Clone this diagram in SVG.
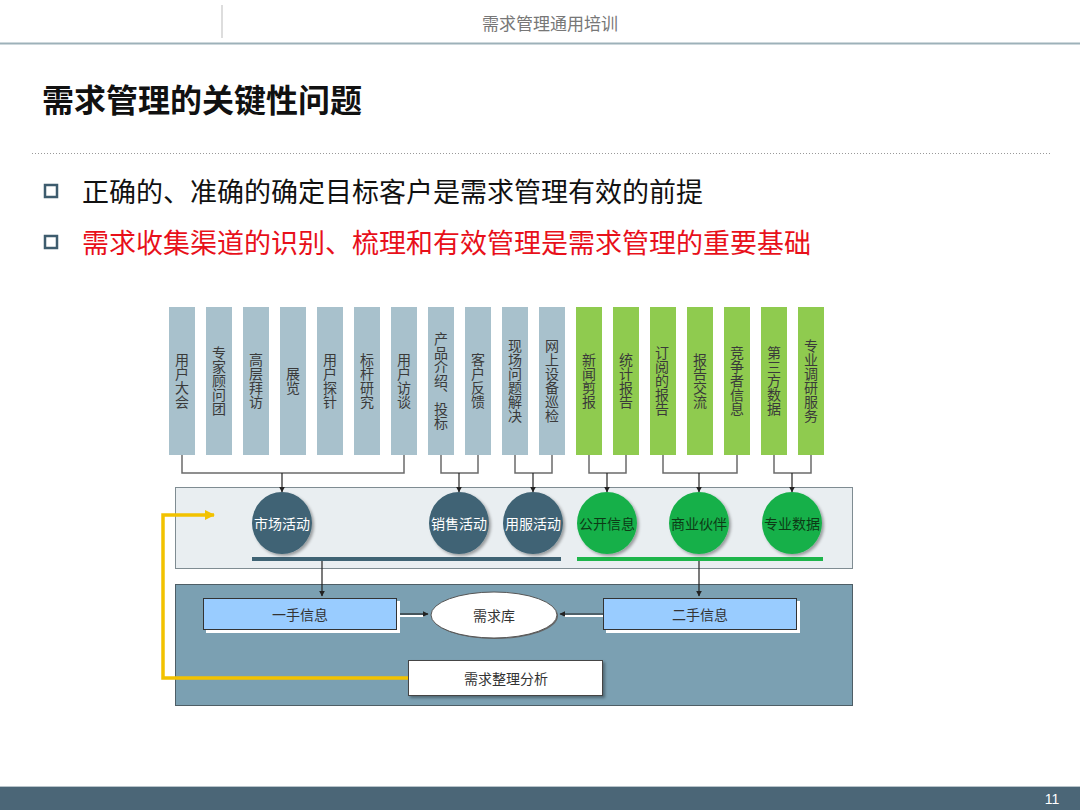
<svg xmlns="http://www.w3.org/2000/svg" width="1080" height="810" viewBox="0 0 1080 810">
<style>
.cjk{font-family:"Noto Sans CJK SC","Liberation Sans",sans-serif}
.col-b{fill:#A8C1CC}
.col-g{fill:#8FCB4F}
.vt{font-family:"Noto Sans CJK SC",sans-serif;font-size:14px;fill:#3a3a3a;writing-mode:vertical-rl;text-anchor:middle}
.br{fill:none;stroke:#6b6b6b;stroke-width:1.5}
.ar{fill:none;stroke:#222;stroke-width:1.2}
.cd{fill:#3F6374}
.cg{fill:#16B04A}
.ct{font-family:"Noto Sans CJK SC",sans-serif;font-size:14px;text-anchor:middle;dominant-baseline:central}
.bt{font-family:"Noto Sans CJK SC",sans-serif;font-size:14px;fill:#333;text-anchor:middle;dominant-baseline:central}
</style>
<defs>
<marker id="ah" viewBox="0 0 10 10" refX="9" refY="5" markerWidth="6" markerHeight="6" orient="auto" markerUnits="userSpaceOnUse">
<path d="M0,0 L10,5 L0,10 z" fill="#222"/>
</marker>
<marker id="ahy" viewBox="0 0 10 10" refX="9" refY="5" markerWidth="10" markerHeight="10" orient="auto" markerUnits="userSpaceOnUse">
<path d="M0,0 L10,5 L0,10 z" fill="#F2C200"/>
</marker>
<filter id="sh" x="-20%" y="-20%" width="140%" height="140%">
<feDropShadow dx="2" dy="2" stdDeviation="1.5" flood-color="#000" flood-opacity="0.35"/>
</filter>
</defs>

<rect width="1080" height="810" fill="#fff"/>

<g id="header">
<line x1="222" y1="5" x2="222" y2="38" stroke="#bbb" stroke-width="1"/>
<text x="550" y="22" class="cjk" font-size="17" fill="#777" text-anchor="middle" dominant-baseline="central">需求管理通用培训</text>
<line x1="0" y1="43.5" x2="1080" y2="43.5" stroke="#9DB1B9" stroke-width="2"/>
</g>

<g id="title">
<text x="42" y="98" class="cjk" font-size="32" font-weight="bold" fill="#111" dominant-baseline="central">需求管理的关键性问题</text>
<line x1="32" y1="153.5" x2="1050" y2="153.5" stroke="#999" stroke-width="1" stroke-dasharray="1 2"/>
</g>

<g id="bullets">
<rect x="45" y="185" width="12" height="12" fill="#fff" stroke="#3E5C6E" stroke-width="2.5"/>
<text x="82" y="190" class="cjk" font-size="27" fill="#111" dominant-baseline="central">正确的、准确的确定目标客户是需求管理有效的前提</text>
<rect x="45" y="236" width="12" height="12" fill="#fff" stroke="#3E5C6E" stroke-width="2.5"/>
<text x="82" y="241" class="cjk" font-size="27" fill="#E8101A" dominant-baseline="central">需求收集渠道的识别、梳理和有效管理是需求管理的重要基础</text>
</g>

<g id="bands">
<rect id="band-mid" x="175.5" y="487.5" width="677" height="81" fill="#E9EEF1" stroke="#7F8C92" stroke-width="1"/>
<rect id="band-bottom" x="175.5" y="584.5" width="677" height="121" fill="#7BA0B2" stroke="#4E5E66" stroke-width="1"/>
</g>

<g id="columns">
<g id="c0"><rect class="col-b" x="169" y="307" width="26" height="148"/><text class="vt" x="182" y="381">用户大会</text></g>
<g id="c1"><rect class="col-b" x="206" y="307" width="26" height="148"/><text class="vt" x="219" y="381">专家顾问团</text></g>
<g id="c2"><rect class="col-b" x="243" y="307" width="26" height="148"/><text class="vt" x="256" y="381">高层拜访</text></g>
<g id="c3"><rect class="col-b" x="280" y="307" width="26" height="148"/><text class="vt" x="293" y="381">展览</text></g>
<g id="c4"><rect class="col-b" x="317" y="307" width="26" height="148"/><text class="vt" x="330" y="381">用户探针</text></g>
<g id="c5"><rect class="col-b" x="354" y="307" width="26" height="148"/><text class="vt" x="367" y="381">标杆研究</text></g>
<g id="c6"><rect class="col-b" x="391" y="307" width="26" height="148"/><text class="vt" x="404" y="381">用户访谈</text></g>
<g id="c7"><rect class="col-b" x="428" y="307" width="26" height="148"/><text class="vt" x="441" y="381">产品介绍、投标</text></g>
<g id="c8"><rect class="col-b" x="465" y="307" width="26" height="148"/><text class="vt" x="478" y="381">客户反馈</text></g>
<g id="c9"><rect class="col-b" x="502" y="307" width="26" height="148"/><text class="vt" x="515" y="381">现场问题解决</text></g>
<g id="c10"><rect class="col-b" x="539" y="307" width="26" height="148"/><text class="vt" x="552" y="381">网上设备巡检</text></g>
<g id="c11"><rect class="col-g" x="576" y="307" width="26" height="148"/><text class="vt" x="589" y="381">新闻剪报</text></g>
<g id="c12"><rect class="col-g" x="613" y="307" width="26" height="148"/><text class="vt" x="626" y="381">统计报告</text></g>
<g id="c13"><rect class="col-g" x="650" y="307" width="26" height="148"/><text class="vt" x="662" y="381">订阅的报告</text></g>
<g id="c14"><rect class="col-g" x="687" y="307" width="26" height="148"/><text class="vt" x="700" y="381">报告交流</text></g>
<g id="c15"><rect class="col-g" x="724" y="307" width="26" height="148"/><text class="vt" x="737" y="381">竞争者信息</text></g>
<g id="c16"><rect class="col-g" x="761" y="307" width="26" height="148"/><text class="vt" x="774" y="381">第三方数据</text></g>
<g id="c17"><rect class="col-g" x="798" y="307" width="26" height="148"/><text class="vt" x="811" y="381">专业调研服务</text></g>
</g>

<g id="connectors">
<path class="br" d="M182 455 V473 H404 V455"/>
<path class="br" d="M441 455 V473 H478 V455"/>
<path class="br" d="M515 455 V473 H552 V455"/>
<path class="br" d="M589 455 V473 H626 V455"/>
<path class="br" d="M663 455 V473 H737 V455"/>
<path class="br" d="M774 455 V473 H811 V455"/>
<line class="ar" x1="282" y1="473" x2="282" y2="492" marker-end="url(#ah)"/>
<line class="ar" x1="459" y1="473" x2="459" y2="492" marker-end="url(#ah)"/>
<line class="ar" x1="533" y1="473" x2="533" y2="492" marker-end="url(#ah)"/>
<line class="ar" x1="607" y1="473" x2="607" y2="492" marker-end="url(#ah)"/>
<line class="ar" x1="699" y1="473" x2="699" y2="492" marker-end="url(#ah)"/>
<line class="ar" x1="792" y1="473" x2="792" y2="492" marker-end="url(#ah)"/>
<rect x="252" y="557" width="309" height="4" fill="#3F6374"/>
<rect x="577" y="557" width="246" height="4" fill="#1DB54B"/>
<line class="ar" x1="322" y1="561" x2="322" y2="596" marker-end="url(#ah)"/>
<line class="ar" x1="699" y1="561" x2="699" y2="596" marker-end="url(#ah)"/>
<line x1="397" y1="616" x2="424" y2="616" stroke="#fff" stroke-width="2"/>
<line class="ar" x1="397" y1="614" x2="428" y2="614" stroke-width="1.5" marker-end="url(#ah)"/>
<line x1="603" y1="616" x2="564" y2="616" stroke="#fff" stroke-width="2"/>
<line class="ar" x1="603" y1="614" x2="560" y2="614" stroke-width="1.5" marker-end="url(#ah)"/>
<path d="M408 678 H163 V515 H214" fill="none" stroke="#F2C200" stroke-width="3.5" marker-end="url(#ahy)"/>
</g>

<g id="n-shichang"><ellipse class="cd" cx="282" cy="523" rx="30" ry="31" filter="url(#sh)"/><text class="ct" x="282" y="523" fill="#fff">市场活动</text></g>
<g id="n-xiaoshou"><ellipse class="cd" cx="459" cy="523" rx="30" ry="31" filter="url(#sh)"/><text class="ct" x="459" y="523" fill="#fff">销售活动</text></g>
<g id="n-yongfu"><ellipse class="cd" cx="533" cy="523" rx="30" ry="31" filter="url(#sh)"/><text class="ct" x="533" y="523" fill="#fff">用服活动</text></g>
<g id="n-gongkai"><ellipse class="cg" cx="607" cy="523" rx="30" ry="31" filter="url(#sh)"/><text class="ct" x="607" y="523" fill="#0d3a16">公开信息</text></g>
<g id="n-shangye"><ellipse class="cg" cx="699" cy="523" rx="30" ry="31" filter="url(#sh)"/><text class="ct" x="699" y="523" fill="#0d3a16">商业伙伴</text></g>
<g id="n-zhuanye"><ellipse class="cg" cx="792" cy="523" rx="30" ry="31" filter="url(#sh)"/><text class="ct" x="792" y="523" fill="#0d3a16">专业数据</text></g>

<g id="n-yishou">
<rect x="206" y="601" width="194" height="32" fill="#fff"/>
<rect x="203.5" y="598.5" width="193" height="31" fill="#99CCFF" stroke="#333" stroke-width="1"/>
<text class="bt" x="300" y="614">一手信息</text>
</g>
<g id="n-xuqiuku">
<ellipse cx="495" cy="616" rx="63" ry="23" fill="#666"/>
<ellipse cx="494" cy="615" rx="63" ry="23" fill="#fff" stroke="#555" stroke-width="1"/>
<text class="bt" x="494" y="615">需求库</text>
</g>
<g id="n-ershou">
<rect x="606" y="601" width="194" height="32" fill="#fff"/>
<rect x="603.5" y="598.5" width="193" height="31" fill="#99CCFF" stroke="#333" stroke-width="1"/>
<text class="bt" x="700" y="614">二手信息</text>
</g>
<g id="n-zhengli">
<rect x="408.5" y="660.5" width="194" height="35" fill="#fff" stroke="#444" stroke-width="1" filter="url(#sh)"/>
<text class="bt" x="506" y="678">需求整理分析</text>
</g>

<g id="footer">
<line x1="0" y1="786.5" x2="1080" y2="786.5" stroke="#B8C4CA" stroke-width="1"/>
<rect x="0" y="787" width="1080" height="23" fill="#4B6677"/>
<text x="1052" y="799" font-family="Liberation Sans Narrow, Liberation Sans, sans-serif" font-size="14" fill="#fff" text-anchor="middle" dominant-baseline="central">11</text>
</g>
</svg>
